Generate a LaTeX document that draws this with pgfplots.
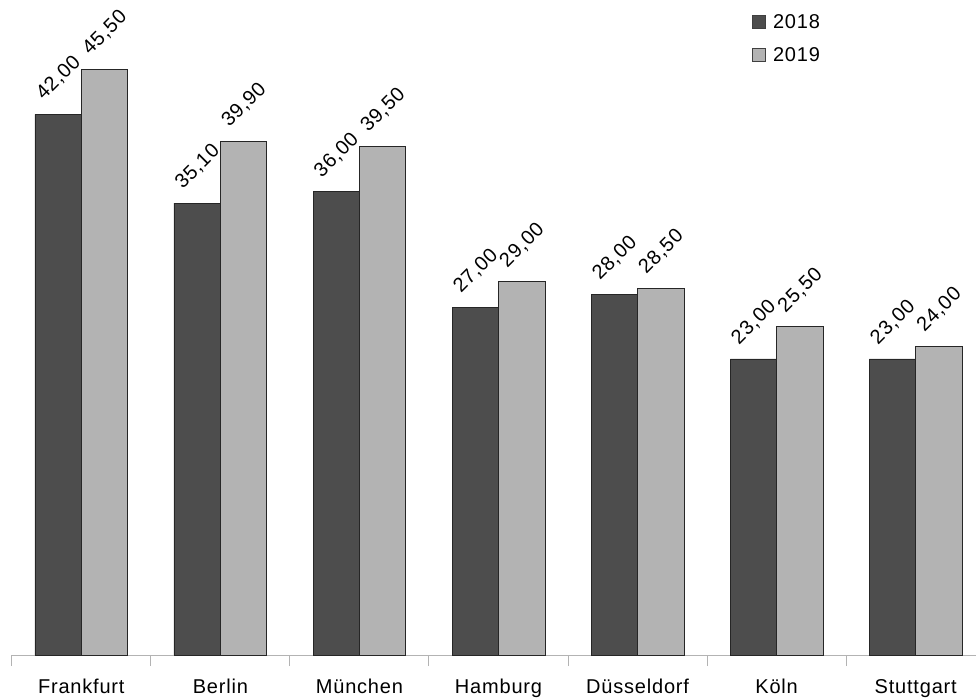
\documentclass[border=0pt]{standalone}
\usepackage{pgfplots}
\pgfplotsset{compat=1.18}
\usepackage{fontspec}
\setmainfont{Liberation Sans}[LetterSpace=4]

\definecolor{bardark}{RGB}{77,77,77}
\definecolor{barlight}{RGB}{179,179,179}
\definecolor{axisgray}{RGB}{179,179,179}

\newcommand{\chartfont}{\fontsize{20bp}{24bp}\selectfont}

\begin{document}
\begin{tikzpicture}
\begin{axis}[
  scale only axis,
  width=964.2bp, height=655bp,
  xmin=-0.5, xmax=6.4335,
  ymin=0, ymax=50.89,
  enlargelimits=false,
  clip=false,
  ybar=0pt,
  bar width=0.3336,
  axis x line*=bottom,
  axis y line=none,
  x axis line style={draw=axisgray, line width=1bp},
  xtick={0,...,6},
  xticklabels={Frankfurt,Berlin,München,Hamburg,Düsseldorf,Köln,Stuttgart},
  minor xtick={-0.5,0.5,...,5.5},
  major tick length=0pt,
  minor tick length=11bp,
  tick align=outside,
  tick style={draw=axisgray, line width=1bp},
  ytick=\empty,
  xticklabel style={anchor=base, yshift=-38bp},
  tick label style={font=\chartfont},
  % value labels: rotated box centred above each bar
  nodes near coords={\rotatebox{45}{\pgfmathprintnumber[fixed, fixed zerofill, precision=2, use comma, assume math mode=true]{\pgfplotspointmeta}}},
  nodes near coords align={center},
  every node near coord/.append style={font=\chartfont, anchor=center, inner sep=0pt, xshift=0.5bp, yshift=36.5bp},
  legend style={at={(0.7646,0.9848)}, anchor=north west, draw=none, fill=none,
    font=\chartfont, row sep=14bp, column sep=5bp,
    nodes={inner sep=2bp}},
  legend cell align=left,
  legend image code/.code={\draw[#1, draw=black!75, line width=0.8bp] (0bp,-6.5bp) rectangle (13bp,6.5bp);},
]
\addplot[fill=bardark, draw=black!85, line width=0.8bp] coordinates {
  (0,42.0) (1,35.1) (2,36.0) (3,27.0) (4,28.0) (5,23.0) (6,23.0)};
\addplot[fill=barlight, draw=black!85, line width=0.8bp] coordinates {
  (0,45.5) (1,39.9) (2,39.5) (3,29.0) (4,28.5) (5,25.5) (6,24.0)};
\legend{2018,2019}
\coordinate (bl) at (axis cs:-0.5846,-3.419);
\coordinate (tr) at (axis cs:6.4335,50.89);
\end{axis}
\pgfresetboundingbox
\path[use as bounding box] (bl) rectangle (tr);
\end{tikzpicture}
\end{document}
